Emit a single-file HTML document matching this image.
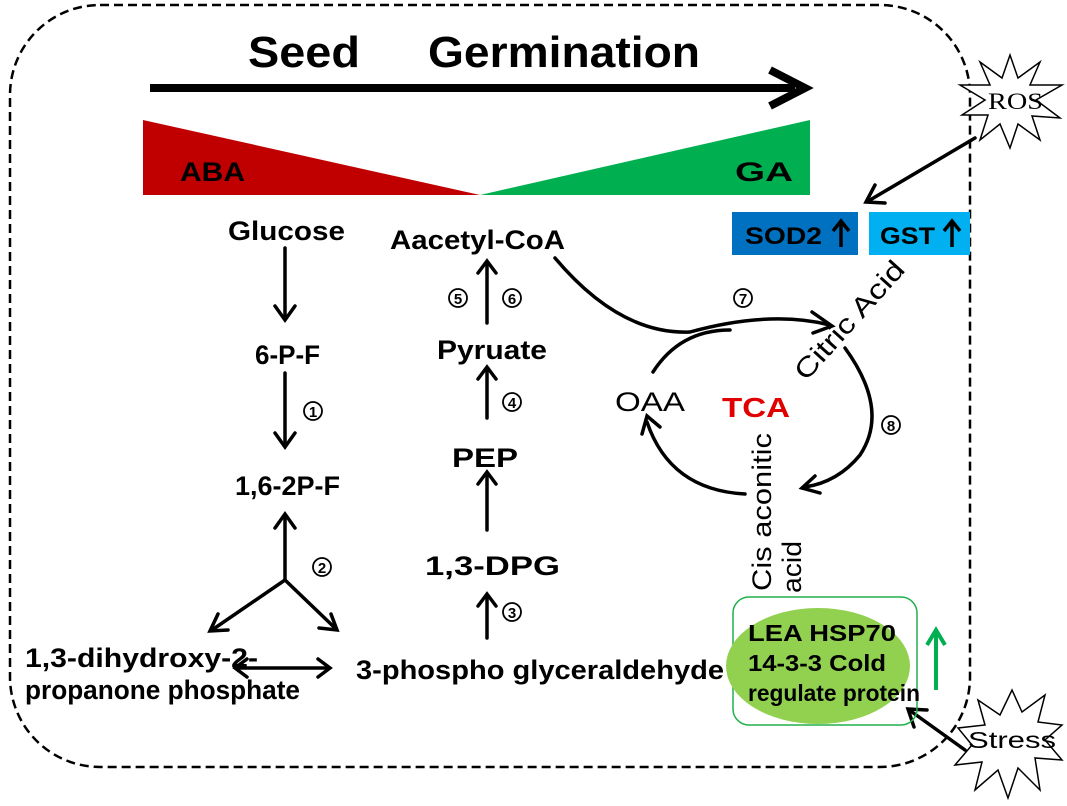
<!DOCTYPE html>
<html><head><meta charset="utf-8"><style>
html,body{margin:0;padding:0;background:#fff;}
svg{display:block;font-family:"Liberation Sans",Arial,sans-serif;}
</style></head><body>
<svg width="1067" height="806" viewBox="0 0 1067 806" xmlns="http://www.w3.org/2000/svg">
<rect x="10" y="5" width="960" height="762" rx="90" ry="90" fill="none" stroke="#000" stroke-width="2.5" stroke-dasharray="9,5"/>
<text x="248" y="67" font-size="44" font-weight="bold" textLength="112" lengthAdjust="spacingAndGlyphs">Seed</text>
<text x="428" y="67" font-size="44" font-weight="bold" textLength="272" lengthAdjust="spacingAndGlyphs">Germination</text>
<line x1="150" y1="88" x2="795" y2="88" stroke="#000" stroke-width="8"/>
<polyline points="770,70 805,88 770,106" fill="none" stroke="#000" stroke-width="8"/>
<polygon points="143,120 143,195 480,195" fill="#c00000"/>
<polygon points="480,195 810,120 810,195" fill="#00b050"/>
<text x="180" y="181" font-size="27" font-weight="bold" textLength="65" lengthAdjust="spacingAndGlyphs">ABA</text>
<text x="735" y="181" font-size="27" font-weight="bold" textLength="58" lengthAdjust="spacingAndGlyphs">GA</text>
<g font-size="27" font-weight="bold">
<text x="228" y="240" textLength="117" lengthAdjust="spacingAndGlyphs">Glucose</text>
<text x="255" y="364" textLength="65" lengthAdjust="spacingAndGlyphs">6-P-F</text>
<text x="235" y="495" textLength="105" lengthAdjust="spacingAndGlyphs">1,6-2P-F</text>
<text x="390" y="249" textLength="175" lengthAdjust="spacingAndGlyphs">Aacetyl-CoA</text>
<text x="437" y="359" textLength="110" lengthAdjust="spacingAndGlyphs">Pyruate</text>
<text x="452" y="467" textLength="66" lengthAdjust="spacingAndGlyphs">PEP</text>
<text x="425" y="575" textLength="135" lengthAdjust="spacingAndGlyphs">1,3-DPG</text>
<text x="356" y="679" textLength="368" lengthAdjust="spacingAndGlyphs">3-phospho  glyceraldehyde</text>
<text x="25" y="667" textLength="233" lengthAdjust="spacingAndGlyphs">1,3-dihydroxy-2-</text>
<text x="25" y="699" textLength="275" lengthAdjust="spacingAndGlyphs">propanone phosphate</text>
</g>
<text x="615" y="411" font-size="27" textLength="70" lengthAdjust="spacingAndGlyphs">OAA</text>
<text x="722" y="417" font-size="28" font-weight="bold" fill="#e00000" textLength="68" lengthAdjust="spacingAndGlyphs">TCA</text>
<g font-size="27">
<text transform="translate(806,382) rotate(-48)" textLength="150" lengthAdjust="spacingAndGlyphs">Citric Acid</text>
<text transform="translate(771,591) rotate(-90)" textLength="158" lengthAdjust="spacingAndGlyphs">Cis aconitic</text>
<text transform="translate(801,593) rotate(-90)" textLength="52" lengthAdjust="spacingAndGlyphs">acid</text>
</g>
<g stroke="#000" stroke-width="3.5" fill="none" stroke-linecap="round">
<line x1="285" y1="248" x2="285" y2="318"/><polyline points="275,306 285,320 295,306"/>
<line x1="285" y1="373" x2="285" y2="445"/><polyline points="275,433 285,447 295,433"/>
<line x1="285" y1="580" x2="285" y2="516"/><polyline points="275,528 285,514 295,528"/>
<line x1="285" y1="580" x2="212" y2="630"/><polyline points="218,614 210,631 228,630"/>
<line x1="285" y1="580" x2="335" y2="628"/><polyline points="319,628 337,630 331,614"/>
<line x1="237" y1="668" x2="328" y2="668"/><polyline points="247,659 235,668 247,677"/><polyline points="318,659 330,668 318,677"/>
<line x1="487" y1="638" x2="487" y2="596"/><polyline points="478,606 487,594 496,606"/>
<line x1="487" y1="530" x2="487" y2="474"/><polyline points="478,484 487,472 496,484"/>
<line x1="487" y1="418" x2="487" y2="369"/><polyline points="478,379 487,367 496,379"/>
<line x1="487" y1="323" x2="487" y2="263"/><polyline points="478,273 487,261 496,273"/>
<path d="M555,258 Q620,335 690,332 Q770,310 830,325"/><polyline points="812,312 832,326 813,333"/>
<path d="M653,372 Q680,330 730,330"/>
<path d="M845,348 Q890,410 860,455 Q838,482 805,487"/><polyline points="815,476 802,488 820,493"/>
<path d="M745,494 Q670,490 647,422"/><polyline points="642,434 647,416 660,427"/>
<line x1="975" y1="138" x2="870" y2="200"/><polyline points="875,185 866,202 885,203"/>
<line x1="965" y1="750" x2="912" y2="712"/><polyline points="914,727 908,709 927,710"/>
</g>
<g text-anchor="middle" font-weight="bold">
<circle cx="313" cy="411" r="9" fill="none" stroke="#000" stroke-width="1.8"/><text x="313" y="417" font-size="15">1</text>
<circle cx="322" cy="567" r="9" fill="none" stroke="#000" stroke-width="1.8"/><text x="322" y="573" font-size="15">2</text>
<circle cx="512" cy="612" r="9" fill="none" stroke="#000" stroke-width="1.8"/><text x="512" y="618" font-size="15">3</text>
<circle cx="512" cy="402" r="9" fill="none" stroke="#000" stroke-width="1.8"/><text x="512" y="408" font-size="15">4</text>
<circle cx="458" cy="298" r="9" fill="none" stroke="#000" stroke-width="1.8"/><text x="458" y="304" font-size="15">5</text>
<circle cx="512" cy="298" r="9" fill="none" stroke="#000" stroke-width="1.8"/><text x="512" y="304" font-size="15">6</text>
<circle cx="743" cy="298" r="9" fill="none" stroke="#000" stroke-width="1.8"/><text x="743" y="304" font-size="15">7</text>
<circle cx="891" cy="425" r="9" fill="none" stroke="#000" stroke-width="1.8"/><text x="891" y="431" font-size="15">8</text>
</g>
<rect x="732" y="212" width="126" height="43" fill="#0070c0"/>
<rect x="869" y="212" width="101" height="43" fill="#00b0f0"/>
<text x="745" y="244" font-size="24" font-weight="bold" textLength="77" lengthAdjust="spacingAndGlyphs">SOD2</text>
<text x="880" y="244" font-size="24" font-weight="bold" textLength="55" lengthAdjust="spacingAndGlyphs">GST</text>
<g stroke="#000" stroke-width="3.5" fill="none">
<line x1="841" y1="247" x2="841" y2="222"/><polyline points="833,231 841,221 849,231"/>
<line x1="952" y1="247" x2="952" y2="222"/><polyline points="944,231 952,221 960,231"/>
</g>
<rect x="733" y="597" width="184" height="128" rx="16" fill="none" stroke="#22b14c" stroke-width="1.5"/>
<ellipse cx="818" cy="666" rx="92" ry="58" fill="#92d050"/>
<g font-size="23" font-weight="bold">
<text x="748" y="641" textLength="148" lengthAdjust="spacingAndGlyphs">LEA  HSP70</text>
<text x="748" y="671" textLength="138" lengthAdjust="spacingAndGlyphs">14-3-3 Cold</text>
<text x="748" y="701" textLength="172" lengthAdjust="spacingAndGlyphs">regulate protein</text>
</g>
<line x1="936" y1="690" x2="936" y2="632" stroke="#00b050" stroke-width="4"/>
<polyline points="927,645 936,630 945,645" fill="none" stroke="#00b050" stroke-width="4"/>
<polygon points="1010,55 1018,78 1040,62 1030,85 1062,85 1036,100 1060,118 1032,116 1040,140 1018,124 1010,148 1000,124 980,140 988,115 962,115 985,100 960,85 990,85 980,62 1002,78" fill="#fff" stroke="#000" stroke-width="1.5"/>
<text x="988" y="109" font-size="23" font-family="Liberation Serif, serif" textLength="55" lengthAdjust="spacingAndGlyphs">ROS</text>
<polygon points="1012,690 1022,712 1045,695 1038,722 1062,725 1045,740 1062,760 1035,758 1040,790 1018,768 1008,798 998,770 975,790 982,762 955,765 972,745 958,728 985,725 978,700 1000,715" fill="#fff" stroke="#000" stroke-width="1.5"/>
<text x="968" y="748" font-size="23" textLength="88" lengthAdjust="spacingAndGlyphs">Stress</text>
</svg>
</body></html>
